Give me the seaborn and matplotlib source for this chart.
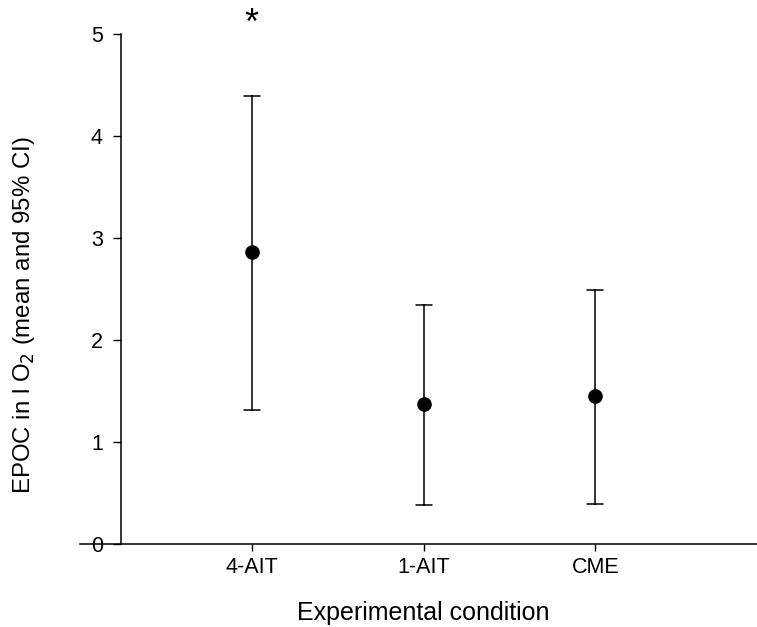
import matplotlib
matplotlib.use("Agg")
import matplotlib.pyplot as plt
import seaborn as sns
import pandas as pd
import numpy as np

conditions = ["4-AIT", "1-AIT", "CME"]
means = [2.86, 1.37, 1.45]
ci_lower = [1.31, 0.38, 0.39]
ci_upper = [4.39, 2.34, 2.49]
y_ticks = [0, 1, 2, 3, 4, 5]

sns.set_theme(style="ticks")
plt.rcParams["font.family"] = ["Liberation Sans", "DejaVu Sans"]

rows = []
for c, lo, m, hi in zip(conditions, ci_lower, means, ci_upper):
    for v in (lo, m, hi):
        rows.append({"condition": c, "value": v})
df = pd.DataFrame(rows)

W, H = 757, 627
fig = plt.figure(figsize=(7.57, 6.27), dpi=100)
ax = fig.add_axes([80/W, (H-543.5)/H, (W-80)/W, (543.5-34)/H])

sns.pointplot(data=df, x="condition", y="value", order=conditions,
              estimator=np.median, errorbar=lambda x: (x.min(), x.max()),
              color="black", linestyle="none", markers="o",
              capsize=0.093, err_kws={"linewidth": 1.1, "color": "black"},
              markersize=8.5, ax=ax)

ax.set_xlim(-1.0, 2.94)
ax.set_ylim(0, 5)
ax.set_yticks(y_ticks)
ax.spines["top"].set_visible(False)
ax.spines["right"].set_visible(False)
ax.spines["left"].set_position(("data", -0.762))
ax.spines["left"].set_bounds(0, 5)
for s in ("left", "bottom"):
    ax.spines[s].set_linewidth(1.1)
    ax.spines[s].set_color("black")
ax.tick_params(axis="y", length=5.5, width=1.0, pad=7.5, labelsize=15.5, colors="black")
ax.tick_params(axis="x", length=5.0, width=1.0, pad=4.5, labelsize=15.5, colors="black")

ax.set_xlabel("")
ax.set_ylabel("")
fig.text(423/W, 1 - 613/H, "Experimental condition", fontsize=18,
         ha="center", va="center", color="black")
fig.text(24/W, 1 - 315/H, "EPOC in l O$_2$ (mean and 95% CI)", fontsize=17.3,
         ha="center", va="center", rotation=90, color="black")

ax.text(0, 5.09, "*", ha="center", va="center", fontsize=26, color="black", clip_on=False)

fig.savefig("out.png", dpi=100)
